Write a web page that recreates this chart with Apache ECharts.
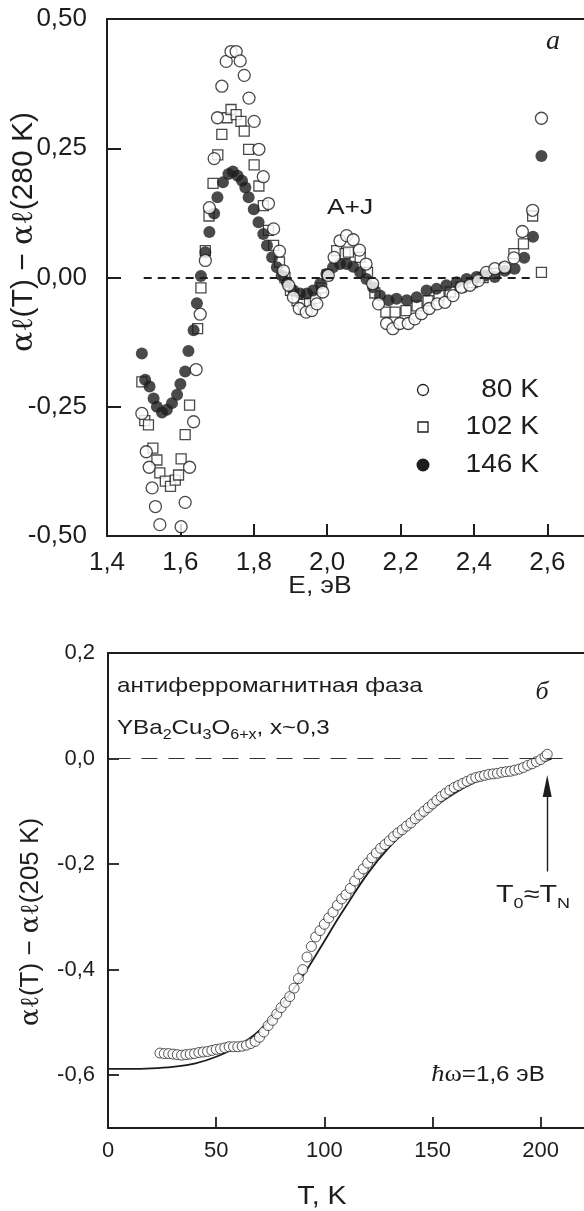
<!DOCTYPE html>
<html>
<head>
<meta charset="utf-8">
<script src="https://cdn.jsdelivr.net/npm/echarts@6/dist/echarts.min.js"></script>
<style>html,body{margin:0;padding:0;background:#fff}#c{width:584px;height:1211px}</style>
</head>
<body>
<div id="c"></div>
<script>
// ---------- Panel (a): spectra ----------
const e80 = [1.495,1.507,1.515,1.523,1.532,1.544,1.602,1.613,1.625,1.636,1.643,1.654,1.668,1.679,1.692,1.701,1.713,1.725,1.738,1.752,1.763,1.774,1.787,1.801,1.814,1.826,1.840,1.854,1.870,1.881,1.895,1.908,1.924,1.943,1.958,1.972,1.988,2.003,2.019,2.035,2.053,2.071,2.088,2.106,2.124,2.140,2.162,2.179,2.198,2.221,2.239,2.257,2.278,2.300,2.321,2.343,2.366,2.389,2.412,2.434,2.457,2.484,2.509,2.532,2.560,2.584];
const v80 = [-0.263,-0.337,-0.367,-0.407,-0.443,-0.478,-0.482,-0.435,-0.367,-0.279,-0.178,-0.071,0.033,0.135,0.230,0.309,0.370,0.418,0.437,0.437,0.419,0.391,0.347,0.302,0.248,0.195,0.143,0.094,0.051,0.013,-0.015,-0.038,-0.060,-0.067,-0.064,-0.051,-0.028,0.004,0.039,0.071,0.081,0.073,0.053,0.026,-0.012,-0.051,-0.089,-0.099,-0.089,-0.089,-0.080,-0.070,-0.060,-0.051,-0.048,-0.035,-0.019,-0.015,-0.006,0.010,0.017,0.020,0.038,0.089,0.130,0.308];

const e102 = [1.495,1.503,1.513,1.525,1.536,1.544,1.559,1.573,1.586,1.595,1.602,1.613,1.625,1.647,1.656,1.668,1.678,1.689,1.702,1.713,1.727,1.738,1.752,1.765,1.774,1.786,1.801,1.814,1.826,1.840,1.854,1.870,1.885,1.900,1.918,1.935,1.952,1.968,1.985,2.000,2.026,2.049,2.058,2.090,2.110,2.130,2.160,2.185,2.215,2.245,2.275,2.305,2.335,2.365,2.395,2.425,2.455,2.485,2.509,2.535,2.560,2.584];
const v102 = [-0.202,-0.277,-0.285,-0.330,-0.353,-0.378,-0.394,-0.404,-0.392,-0.382,-0.351,-0.304,-0.247,-0.099,-0.020,0.052,0.119,0.182,0.237,0.277,0.309,0.325,0.315,0.302,0.283,0.248,0.218,0.177,0.139,0.091,0.062,0.030,0.000,-0.025,-0.045,-0.052,-0.050,-0.040,-0.020,0.005,0.052,0.046,0.049,0.039,0.010,-0.030,-0.067,-0.067,-0.064,-0.055,-0.045,-0.035,-0.028,-0.018,-0.010,0.000,0.008,0.018,0.046,0.065,0.119,0.010];

const e146 = [1.495,1.504,1.516,1.527,1.536,1.550,1.563,1.577,1.591,1.600,1.613,1.622,1.636,1.645,1.656,1.668,1.679,1.692,1.701,1.716,1.731,1.743,1.756,1.768,1.777,1.786,1.800,1.813,1.826,1.836,1.850,1.863,1.876,1.890,1.908,1.926,1.945,1.962,1.981,1.998,2.016,2.035,2.053,2.071,2.090,2.107,2.125,2.144,2.167,2.189,2.217,2.244,2.271,2.298,2.325,2.353,2.380,2.407,2.430,2.457,2.484,2.511,2.537,2.561,2.584];
const v146 = [-0.147,-0.198,-0.211,-0.234,-0.250,-0.261,-0.256,-0.243,-0.227,-0.206,-0.182,-0.142,-0.102,-0.050,0.003,0.049,0.088,0.124,0.155,0.184,0.200,0.205,0.197,0.187,0.174,0.155,0.132,0.107,0.084,0.062,0.039,0.020,0.004,-0.009,-0.025,-0.031,-0.031,-0.025,-0.012,0.007,0.020,0.026,0.026,0.021,0.010,-0.003,-0.019,-0.035,-0.044,-0.041,-0.044,-0.038,-0.025,-0.022,-0.015,-0.009,-0.003,0.001,0.004,0.001,0.013,0.017,0.038,0.079,0.235];

const topXTicks = [1.4,1.6,1.8,2.0,2.2,2.4,2.6];
const topYTicks = [-0.5,-0.25,0,0.25,0.5];
const legendNames = ['80 K','102 K','146 K'];

// ---------- Panel (б): temperature dependence ----------
const tData = [24,26,28,30,32,34,36,38,40,42,44,46,48,50,52,54,56,58,60,62,64,66,68,70,72,74,76,78,80,82,84,86,88,90,92,94,96,98,100,102,104,106,108,110,112,114,116,118,120,122,124,126,128,130,132,134,136,138,140,142,144,146,148,150,152,154,156,158,160,162,164,166,168,170,172,174,176,178,180,182,184,186,188,190,192,194,196,198,200,202,203];
const vData = [-0.558,-0.559,-0.559,-0.560,-0.561,-0.562,-0.561,-0.560,-0.559,-0.557,-0.556,-0.555,-0.553,-0.551,-0.550,-0.548,-0.546,-0.546,-0.546,-0.545,-0.543,-0.540,-0.536,-0.528,-0.518,-0.506,-0.496,-0.484,-0.472,-0.462,-0.451,-0.435,-0.417,-0.400,-0.376,-0.356,-0.338,-0.326,-0.314,-0.302,-0.291,-0.278,-0.266,-0.258,-0.246,-0.232,-0.219,-0.209,-0.198,-0.188,-0.179,-0.170,-0.163,-0.156,-0.148,-0.141,-0.135,-0.128,-0.122,-0.114,-0.107,-0.100,-0.093,-0.086,-0.079,-0.072,-0.066,-0.060,-0.055,-0.051,-0.047,-0.043,-0.039,-0.036,-0.034,-0.032,-0.030,-0.029,-0.028,-0.026,-0.025,-0.024,-0.022,-0.020,-0.017,-0.013,-0.010,-0.006,-0.002,0.004,0.008];
const tFit = [0,10,20,30,40,50,60,70,80,90,100,105,110,120,130,140,150,160,170,180,190,200,205];
const vFit = [-0.588,-0.588,-0.587,-0.584,-0.578,-0.565,-0.545,-0.515,-0.468,-0.412,-0.346,-0.312,-0.280,-0.218,-0.168,-0.128,-0.094,-0.066,-0.044,-0.028,-0.018,-0.007,0.0];
const botXTicks = [0,50,100,150,200];
const botYTicks = [-0.6,-0.4,-0.2,0,0.2];
const arrowT = 203, arrowFrom = -0.214, arrowTo = -0.052;

const zip = (a,b) => a.map((x,i) => [x,b[i]]);
const INK = '#1d1d1d';
const SANS = 'Liberation Sans';
const SERIF = 'Liberation Serif';

const chart = echarts.init(document.getElementById('c'), null, {renderer:'canvas'});

const commaFmt = d => v => {
  const s = Number(v).toFixed(d).replace('.', ',');
  return s === '-0,0' || s === '-0,00' ? s.slice(1) : s;
};

const axLine = {show:true, onZero:false, lineStyle:{color:INK, width:2}};

chart.setOption({
  animation:false,
  backgroundColor:'#fff',
  grid:[
    {left:107, top:19, right:0, height:517},
    {left:108, top:653, right:0, height:475}
  ],
  xAxis:[
    {gridIndex:0, type:'value', min:1.4, max:2.7, position:'bottom',
     axisLine:axLine, splitLine:{show:false},
     axisTick:{inside:true, length:12, lineStyle:{color:INK,width:2}, customValues:topXTicks},
     axisLabel:{color:INK, fontFamily:SANS, fontSize:26, margin:14, formatter:commaFmt(1), customValues:topXTicks}},
    {gridIndex:0, type:'value', min:1.4, max:2.7, position:'top',
     axisLine:axLine, axisTick:{show:false}, axisLabel:{show:false}, splitLine:{show:false}},
    {gridIndex:1, type:'value', min:0, max:220, position:'bottom',
     axisLine:axLine, splitLine:{show:false},
     axisTick:{inside:true, length:11, lineStyle:{color:INK,width:1.8}, customValues:botXTicks},
     axisLabel:{color:INK, fontFamily:SANS, fontSize:22, margin:12, customValues:botXTicks}},
    {gridIndex:1, type:'value', min:0, max:220, position:'top',
     axisLine:axLine, axisTick:{show:false}, axisLabel:{show:false}, splitLine:{show:false}}
  ],
  yAxis:[
    {gridIndex:0, type:'value', min:-0.5, max:0.5,
     axisLine:axLine, splitLine:{show:false},
     axisTick:{inside:true, length:14, lineStyle:{color:INK,width:2}, customValues:topYTicks},
     axisLabel:{color:INK, fontFamily:SANS, fontSize:26, margin:20, formatter:commaFmt(2), customValues:topYTicks}},
    {gridIndex:1, type:'value', min:-0.7, max:0.2,
     axisLine:axLine, splitLine:{show:false},
     axisTick:{inside:true, length:11, lineStyle:{color:INK,width:1.8}, customValues:botYTicks},
     axisLabel:{color:INK, fontFamily:SANS, fontSize:22, margin:13, formatter:commaFmt(1), customValues:botYTicks}}
  ],
  series:[
    {name:'102 K', type:'scatter', xAxisIndex:0, yAxisIndex:0, data:zip(e102,v102),
     symbol:'rect', symbolSize:10, z:2,
     itemStyle:{color:'#fff', borderColor:INK, borderWidth:1.3},
     markLine:{silent:true, symbol:['none','none'], label:{show:false},
       lineStyle:{color:INK, width:1.8, type:[8,6]},
       data:[[{coord:[1.5,0]},{coord:[2.56,0]}]]}},
    {name:'146 K', type:'scatter', xAxisIndex:0, yAxisIndex:0, data:zip(e146,v146),
     symbol:'circle', symbolSize:12, z:3,
     itemStyle:{color:INK, borderColor:INK, borderWidth:0}},
    {name:'80 K', type:'scatter', xAxisIndex:0, yAxisIndex:0, data:zip(e80,v80),
     symbol:'circle', symbolSize:12, z:4,
     itemStyle:{color:'#fff', borderColor:INK, borderWidth:1.3}},
    {name:'fit', type:'line', xAxisIndex:2, yAxisIndex:1, data:zip(tFit,vFit),
     smooth:0.4, symbol:'none', z:2, lineStyle:{color:INK, width:1.8},
     markLine:{silent:true, label:{show:false}, animation:false,
       data:[
         [{coord:[3,0], symbol:'none', lineStyle:{color:'#333', width:1.2, type:[16,11]}},
          {coord:[212,0], symbol:'none'}],
         [{coord:[arrowT,arrowFrom], symbol:'none', lineStyle:{color:INK, width:1.4, type:'solid'}},
          {coord:[arrowT,arrowTo], symbol:'triangle', symbolSize:[9,22]}]
       ]}},
    {name:'data', type:'scatter', xAxisIndex:2, yAxisIndex:1, data:zip(tData,vData),
     symbol:'circle', symbolSize:10, z:3,
     itemStyle:{color:'#fff', borderColor:'#2a2a2a', borderWidth:1}}
  ],
  graphic:[
    // y axis names
    {type:'text', x:24, y:232, rotation:Math.PI/2, style:{
      text:'{g|αℓ}(T) − {g|αℓ}(280 K)', fill:INK, font:'30px "Liberation Sans"',
      align:'center', verticalAlign:'middle',
      rich:{g:{fontFamily:'DejaVu Serif', fontSize:30, fill:INK}}}},
    {type:'text', x:31, y:922, rotation:Math.PI/2, style:{
      text:'{g|αℓ}(T) − {g|αℓ}(205 K)', fill:INK, font:'26px "Liberation Sans"',
      align:'center', verticalAlign:'middle',
      rich:{g:{fontFamily:'DejaVu Serif', fontSize:26, fill:INK}}}},
    // x axis names
    {type:'text', x:320, y:586, scaleX:1.1, style:{text:'E, эВ', fill:INK, font:'24px "Liberation Sans"', align:'center', verticalAlign:'middle'}},
    {type:'text', x:322, y:1197, scaleX:1.1, style:{text:'T, K', fill:INK, font:'26px "Liberation Sans"', align:'center', verticalAlign:'middle'}},
    // panel letters
    {type:'text', x:553, y:42, style:{text:'а', fill:INK, font:'italic 28px "Liberation Serif"', align:'center', verticalAlign:'middle'}},
    {type:'text', x:542, y:692, style:{text:'б', fill:INK, font:'italic 26px "Liberation Serif"', align:'center', verticalAlign:'middle'}},
    // A+J
    {type:'text', x:350, y:208, scaleX:1.2, style:{text:'A+J', fill:INK, font:'22px "Liberation Sans"', align:'center', verticalAlign:'middle'}},
    // legend
    {type:'circle', shape:{cx:423, cy:390, r:5.5}, style:{fill:'#fff', stroke:INK, lineWidth:1.3}},
    {type:'rect', shape:{x:418, y:422, width:10, height:10}, style:{fill:'#fff', stroke:INK, lineWidth:1.3}},
    {type:'circle', shape:{cx:423, cy:465, r:6.5}, style:{fill:INK}},
    {type:'text', x:539, y:390, scaleX:1.08, style:{text:legendNames[0], fill:INK, font:'26px "Liberation Sans"', align:'right', verticalAlign:'middle'}},
    {type:'text', x:539, y:427, scaleX:1.08, style:{text:legendNames[1], fill:INK, font:'26px "Liberation Sans"', align:'right', verticalAlign:'middle'}},
    {type:'text', x:539, y:465, scaleX:1.08, style:{text:legendNames[2], fill:INK, font:'26px "Liberation Sans"', align:'right', verticalAlign:'middle'}},
    // panel б texts
    {type:'text', x:117, y:686, scaleX:1.15, style:{text:'антиферромагнитная фаза', fill:INK, font:'21px "Liberation Sans"', align:'left', verticalAlign:'middle'}},
    {type:'text', x:117, y:728, scaleX:1.15, style:{text:'YBa{s|2}Cu{s|3}O{s|6+x}, x~0,3', fill:INK, font:'21px "Liberation Sans"',
      lineHeight:28, align:'left', verticalAlign:'middle',
      rich:{s:{fontSize:14, fontFamily:SANS, fill:INK, verticalAlign:'bottom', lineHeight:28}}}},
    {type:'text', x:533, y:895, scaleX:1.2, style:{text:'T{s|0}≈T{s|N}', fill:INK, font:'24px "Liberation Sans"',
      lineHeight:32, align:'center', verticalAlign:'middle',
      rich:{s:{fontSize:15, fontFamily:SANS, fill:INK, verticalAlign:'bottom', lineHeight:32}}}},
    {type:'text', x:488, y:1075, scaleX:1.1, style:{text:'{i|ħ}{w|ω}=1,6 эВ', fill:INK, font:'22px "Liberation Sans"',
      align:'center', verticalAlign:'middle',
      rich:{i:{fontFamily:SERIF, fontStyle:'italic', fontSize:24, fill:INK}, w:{fontFamily:SERIF, fontSize:24, fill:INK}}}}
  ]
});
</script>
</body>
</html>
